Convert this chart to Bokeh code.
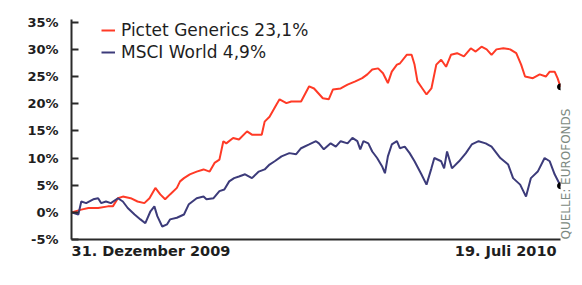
import math
from bokeh.plotting import figure
from bokeh.models import Range1d, FixedTicker, Legend, LegendItem, LinearAxis
from bokeh.embed import file_html
from bokeh.resources import INLINE

# ---- data (days since 31.12.2009, performance in %) ----
start_label = "31. Dezember 2009"
end_label = "19. Juli 2010"
day_start = 0
day_end = 200
red_name = "Pictet Generics 23,1%"
blue_name = "MSCI World 4,9%"
source_text = "QUELLE: EUROFONDS"

y_ticks = [-5, 0, 5, 10, 15, 20, 25, 30, 35]
y_tick_labels = ["-5%", "0%", "5%", "10%", "15%", "20%", "25%", "30%", "35%"]

red_days = [0, 4.0, 6.9, 10.9, 14.9, 16.9, 19.0, 21.0, 24.2, 27.0, 29.8, 31.9, 34.3, 36.3,
            38.3, 40.3, 43.1, 44.4, 46.0, 48.4, 51.2, 54.0, 56.5, 58.5, 60.5, 62.1, 63.3,
            66.1, 68.5, 71.8, 73.8, 77.8, 79.0, 81.0, 83.9, 85.1, 87.9, 89.9, 93.9, 97.2,
            99.2, 102.8, 105.2, 106.9, 110.1, 112.9, 116.1, 118.9, 121.0, 123.0, 125.4,
            127.4, 129.4, 131.0, 133.1, 134.3, 137.1, 139.1, 140.3, 141.5, 143.5, 145.2,
            147.2, 149.2, 151.2, 153.2, 155.2, 157.7, 160.5, 163.3, 165.3, 167.7, 169.8,
            171.8, 173.8, 176.6, 179.4, 181.9, 183.9, 185.5, 188.7, 191.5, 194.0, 195.6,
            197.6, 198.8, 200]
red_vals = [0.0, 0.5, 0.8, 0.8, 1.1, 1.1, 2.6, 2.9, 2.6, 2.0, 1.7, 2.6, 4.5, 3.3,
            2.4, 3.3, 4.5, 5.7, 6.3, 7.0, 7.5, 7.9, 7.5, 9.1, 9.7, 13.1, 12.7,
            13.7, 13.4, 14.9, 14.3, 14.3, 16.7, 17.6, 19.9, 20.8, 20.1, 20.4, 20.4, 23.2,
            22.8, 21.0, 20.8, 22.6, 22.8, 23.5, 24.1, 24.7, 25.4, 26.3, 26.5,
            25.6, 23.8, 25.9, 27.2, 27.4, 29.0, 29.0, 27.2, 24.1, 22.8, 21.7,
            22.8, 27.2, 28.1, 26.8, 29.0, 29.3, 28.7, 30.2, 29.6, 30.5, 30.0,
            29.0, 30.0, 30.2, 30.0, 29.3, 27.2, 25.0, 24.7, 25.4, 25.0, 25.9,
            25.9, 24.7, 23.1]

blue_days = [0, 2.8, 4.0, 6.0, 8.9, 10.9, 12.1, 14.1, 16.1, 19.0, 21.0, 23.0, 25.8, 28.2,
             30.2, 32.3, 33.9, 35.1, 37.1, 39.1, 40.3, 43.1, 46.0, 48.0, 51.2, 54.0, 55.2,
             58.1, 60.5, 62.5, 64.5, 66.5, 68.5, 71.0, 73.8, 76.6, 79.0, 81.0, 83.1, 85.9,
             89.1, 91.9, 93.9, 97.2, 100.0, 101.2, 103.2, 106.0, 108.1, 110.1, 112.9, 114.9,
             116.9, 118.1, 119.4, 121.4, 123.0, 125.0, 127.0, 128.2, 129.4, 131.0, 133.1,
             134.3, 136.3, 138.3, 140.3, 143.1, 145.2, 147.2, 148.4, 151.2, 152.4, 153.6,
             155.6, 158.5, 161.3, 163.7, 166.5, 169.4, 171.8, 175.4, 178.6, 180.6, 183.5,
             185.9, 187.9, 190.7, 193.5, 195.6, 197.6, 200]
blue_vals = [0.0, -0.4, 2.0, 1.7, 2.4, 2.6, 1.7, 2.0, 1.7, 2.6, 2.0, 0.8, -0.4, -1.3,
             -2.0, 0.2, 1.1, -0.7, -2.6, -2.2, -1.3, -1.0, -0.4, 1.5, 2.6, 2.9, 2.4,
             2.6, 3.9, 4.2, 5.7, 6.3, 6.6, 7.0, 6.3, 7.5, 7.9, 8.8, 9.4, 10.3,
             10.9, 10.7, 11.8, 12.5, 13.1, 12.7, 11.6, 12.7, 12.1, 13.1, 12.7, 13.7,
             13.1, 11.6, 13.1, 12.7, 11.2, 10.0, 8.5, 7.2, 10.3, 12.5, 13.1,
             11.8, 12.1, 10.9, 9.4, 7.0, 5.1, 8.1, 10.0, 9.4, 8.1, 11.2,
             8.1, 9.4, 10.9, 12.5, 13.1, 12.7, 12.1, 10.0, 8.8, 6.3, 5.1,
             2.9, 6.3, 7.5, 10.0, 9.4, 7.0, 4.9]

# ---- styles / layout ----
RED = "#ff3a26"
BLUE = "#3c3b7a"
AXIS = "#2a2a2a"
TXT = "#1e1e1e"
FONT = "DejaVu Sans"
Y_TOP = 35.5                      # small headroom above the 35 % tick
START_LABEL_POS = 32.5            # label centres (labels sit inside the date span)
END_LABEL_POS = 177.6

p = figure(width=582, height=285, output_backend="svg", toolbar_location=None,
           x_range=Range1d(day_start, day_end), y_range=Range1d(y_ticks[0], Y_TOP),
           min_border_left=71, min_border_right=19, min_border_top=19, min_border_bottom=46)
p.outline_line_color = None
p.xgrid.visible = False
p.ygrid.visible = False
p.background_fill_color = "white"
p.border_fill_color = "white"

# bottom axis with the two date labels
p.xaxis.ticker = FixedTicker(ticks=[START_LABEL_POS, END_LABEL_POS])
p.xaxis.major_label_overrides = {START_LABEL_POS: start_label, END_LABEL_POS: end_label}
p.xaxis.axis_line_color = AXIS
p.xaxis.axis_line_width = 2
p.xaxis.major_tick_line_color = None
p.xaxis.major_tick_in = 0
p.xaxis.major_tick_out = 0
p.xaxis.minor_tick_line_color = None
p.xaxis.major_label_standoff = 3
p.xaxis.major_label_text_font = FONT
p.xaxis.major_label_text_font_size = "14.5px"
p.xaxis.major_label_text_font_style = "bold"
p.xaxis.major_label_text_color = TXT

p.yaxis.ticker = FixedTicker(ticks=y_ticks)
p.yaxis.major_label_overrides = {t: l for t, l in zip(y_ticks, y_tick_labels)}
p.yaxis.axis_line_color = AXIS
p.yaxis.axis_line_width = 2
p.yaxis.major_tick_line_color = AXIS
p.yaxis.major_tick_line_width = 2
p.yaxis.major_tick_in = 7
p.yaxis.major_tick_out = 0
p.yaxis.minor_tick_line_color = None
p.yaxis.major_label_standoff = 13
p.yaxis.major_label_text_font = FONT
p.yaxis.major_label_text_font_size = "13px"
p.yaxis.major_label_text_font_style = "bold"
p.yaxis.major_label_text_color = TXT

# source note on the right edge, reading upwards
src_axis = LinearAxis(ticker=FixedTicker(ticks=[]), axis_line_color=None,
                      major_tick_out=0, major_tick_in=0, major_label_standoff=0,
                      minor_tick_line_color=None,
                      axis_label=source_text, axis_label_standoff=5,
                      axis_label_orientation=math.pi / 2, axis_label_align="start",
                      axis_label_text_font=FONT, axis_label_text_font_size="12px",
                      axis_label_text_font_style="normal", axis_label_text_color="#7d8a82")
p.add_layout(src_axis, "right")

# lines
r_red = p.line(red_days, red_vals, line_color=RED, line_width=2)
r_blue = p.line(blue_days, blue_vals, line_color=BLUE, line_width=2)
p.scatter([red_days[-1]], [red_vals[-1]], size=6, color="black")
p.scatter([blue_days[-1]], [blue_vals[-1]], size=6, color="black")

legend = Legend(items=[LegendItem(label=red_name, renderers=[r_red]),
                       LegendItem(label=blue_name, renderers=[r_blue])],
                location=(30, 177), padding=0, margin=0, spacing=2,
                label_height=16, glyph_height=16, glyph_width=14, label_standoff=6,
                border_line_color=None, background_fill_alpha=0,
                label_text_font=FONT, label_text_font_size="17px", label_text_color=TXT)
p.add_layout(legend)

open("out.html", "w").write(file_html(p, INLINE))
